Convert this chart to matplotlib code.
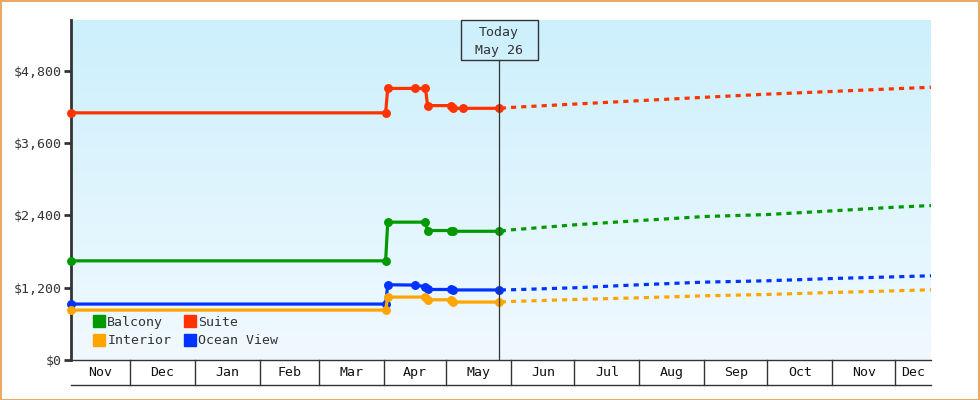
import matplotlib
matplotlib.use("Agg")
import matplotlib.pyplot as plt
import matplotlib.dates as mdates
from matplotlib.lines import Line2D
from matplotlib.patches import Rectangle
import matplotlib.transforms as mtransforms
import numpy as np
from datetime import datetime

plt.rcParams['font.family'] = ['DejaVu Sans Mono']

# ---------------- data ----------------
series_names = ["Balcony", "Suite", "Ocean View", "Interior"]
series_colors = ["#009900", "#ff3300", "#0033ff", "#ffa500"]

hist_balcony_dates = ["2024-11-03", "2025-04-02", "2025-04-03", "2025-04-21", "2025-04-22",
                      "2025-05-03", "2025-05-04", "2025-05-26"]
hist_balcony = [1645, 1645, 2287, 2287, 2148, 2148, 2135, 2135]

hist_suite_dates = ["2024-11-03", "2025-04-02", "2025-04-03", "2025-04-16", "2025-04-21",
                    "2025-04-22", "2025-05-03", "2025-05-04", "2025-05-09", "2025-05-26"]
hist_suite = [4100, 4100, 4505, 4505, 4505, 4220, 4220, 4175, 4175, 4175]

hist_ocean_dates = ["2024-11-03", "2025-04-02", "2025-04-03", "2025-04-16", "2025-04-21",
                    "2025-04-22", "2025-05-03", "2025-05-04", "2025-05-26"]
hist_ocean = [928, 928, 1248, 1243, 1215, 1170, 1170, 1162, 1162]

hist_interior_dates = ["2024-11-03", "2025-04-02", "2025-04-03", "2025-04-21", "2025-04-22",
                       "2025-05-03", "2025-05-04", "2025-05-26"]
hist_interior = [828, 828, 1044, 1044, 999, 999, 961, 961]

fc_dates = ["2025-05-26", "2025-06-01", "2025-07-01", "2025-08-01", "2025-09-01",
            "2025-10-01", "2025-11-01", "2025-12-01", "2025-12-18"]
fc_balcony = [2135, 2159, 2242, 2313, 2380, 2413, 2474, 2535, 2562]
fc_suite = [4175, 4190, 4245, 4302, 4358, 4410, 4455, 4500, 4524]
fc_ocean = [1162, 1165, 1198, 1248, 1292, 1314, 1352, 1380, 1397]
fc_interior = [961, 971, 1004, 1032, 1065, 1087, 1120, 1148, 1165]

today = "2025-05-26"
today_label = ["Today", "May 26"]
x_start, x_end = "2024-11-03", "2025-12-18"
month_starts = ["2024-11-01", "2024-12-01", "2025-01-01", "2025-02-01", "2025-03-01",
                "2025-04-01", "2025-05-01", "2025-06-01", "2025-07-01", "2025-08-01",
                "2025-09-01", "2025-10-01", "2025-11-01", "2025-12-01", "2026-01-01"]
month_labels = ["Nov", "Dec", "Jan", "Feb", "Mar", "Apr", "May", "Jun", "Jul", "Aug",
                "Sep", "Oct", "Nov", "Dec"]
y_ticks = [0, 1200, 2400, 3600, 4800]
y_tick_labels = ["$0", "$1,200", "$2,400", "$3,600", "$4,800"]
y_max = 5640

# ---------------- figure ----------------
def d(s):
    return mdates.date2num(datetime.strptime(s, "%Y-%m-%d"))

fig = plt.figure(figsize=(9.8, 4.0), dpi=100)
fig.patch.set_facecolor("white")
ax = fig.add_axes([71 / 980, 40 / 400, 860 / 980, 340 / 400])

x0, x1 = d(x_start), d(x_end)
ax.set_xlim(x0, x1)
ax.set_ylim(0, y_max)

# gradient background
top = np.array([204, 240, 252]) / 255
bot = np.array([241, 249, 255]) / 255
t = np.linspace(0, 1, 256)[:, None]
grad = (top[None, :] * (1 - t) + bot[None, :] * t)[:, None, :]
ax.imshow(grad, extent=[x0, x1, 0, y_max], aspect="auto", origin="upper", zorder=0)

hist = [(hist_balcony_dates, hist_balcony), (hist_suite_dates, hist_suite),
        (hist_ocean_dates, hist_ocean), (hist_interior_dates, hist_interior)]
fcs = [fc_balcony, fc_suite, fc_ocean, fc_interior]
fcx = [d(s) for s in fc_dates]

LW = 2.3
for i, (name, col) in enumerate(zip(series_names, series_colors)):
    hd, hv = hist[i]
    hx = [d(s) for s in hd]
    ax.plot(fcx, fcs[i], color=col, lw=LW, zorder=3 + i,
            linestyle=(2.6, (1.6, 1.6)), dash_capstyle="butt", clip_on=False)
    ax.plot(hx, hv, color=col, lw=LW, marker="o", ms=5.4, mec=col, mfc=col,
            zorder=3 + i, solid_capstyle="butt", clip_on=False)

# today marker
tx = d(today)
tfrac = (tx - x0) / (x1 - x0)
box_w = 77 / 860
box_h = 40 / 340
ax.plot([tx, tx], [0, y_max * (1 - box_h)], color="#333333", lw=0.9, zorder=10)
ax.add_patch(Rectangle((tfrac - box_w / 2 + 0.5 / 860, 1 - box_h), box_w, box_h,
                       transform=ax.transAxes, facecolor="none", edgecolor="#333333",
                       lw=1.0, zorder=11, clip_on=False))
ax.text(tfrac, 1 - box_h * 0.32, today_label[0], transform=ax.transAxes, ha="center",
        va="center", fontsize=9.5, color="#333333", zorder=12)
ax.text(tfrac, 1 - box_h * 0.77, today_label[1], transform=ax.transAxes, ha="center",
        va="center", fontsize=9.5, color="#333333", zorder=12)

# axes styling
for s in ["top", "right"]:
    ax.spines[s].set_visible(False)
ax.spines["left"].set_color("#333333")
ax.spines["left"].set_linewidth(2)
ax.spines["bottom"].set_color("#333333")
ax.spines["bottom"].set_linewidth(1)
ax.set_yticks(y_ticks)
ax.set_yticklabels(y_tick_labels)
ax.tick_params(axis="y", direction="out", length=5, width=2, color="#333333",
               labelsize=9.5, labelcolor="#333333", pad=2)
ax.set_xticks([])

# month row
trans = mtransforms.blended_transform_factory(ax.transData, ax.transAxes)
row_h = 25 / 340
ms = [d(s) for s in month_starts]
for j, lab in enumerate(month_labels):
    a = max(ms[j], x0)
    b = min(ms[j + 1], x1)
    ax.text((a + b) / 2, -row_h / 2, lab, transform=trans, ha="center", va="center",
            fontsize=9.5, color="#111111", clip_on=False)
    if ms[j] > x0:
        ax.plot([ms[j], ms[j]], [0, -row_h], transform=trans, color="#333333",
                lw=1.0, clip_on=False)
ax.plot([x0, x1], [-row_h, -row_h], transform=trans, color="#333333", lw=1.0,
        clip_on=False)

# legend
handles = [Line2D([], [], marker="s", ls="", ms=8, color=c, mec=c) for c in series_colors]
order = [0, 3, 1, 2]
leg = ax.legend([handles[k] for k in order], [series_names[k] for k in order],
                ncol=2, loc="upper left", bbox_to_anchor=(0.02, 0.145),
                frameon=False, handlelength=0.9, handletextpad=0.15,
                columnspacing=0.95, labelspacing=0.4, fontsize=9.5, borderaxespad=0)
for txt in leg.get_texts():
    txt.set_color("#333333")

# outer border
fig.patches.append(Rectangle((0.5 / 980, 0.5 / 400), 1 - 1.5 / 980, 1 - 1.5 / 400,
                             transform=fig.transFigure, fill=False,
                             edgecolor="#e8aa66", lw=1.5))

fig.savefig("out.png", dpi=100)
